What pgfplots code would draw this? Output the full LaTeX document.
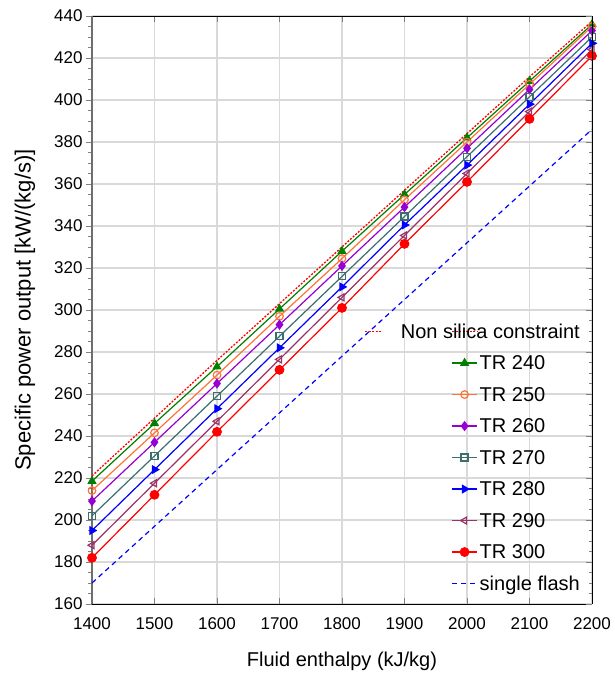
\documentclass[border=0pt]{standalone}
\usepackage{fontspec}
\setmainfont{Liberation Sans}
\usepackage{pgfplots}
\pgfplotsset{compat=1.18}
\usepackage{calc}
\definecolor{cgreen}{RGB}{0,128,0}
\definecolor{corange}{RGB}{255,115,55}
\definecolor{cpurple}{RGB}{150,0,210}
\definecolor{cslate}{RGB}{60,110,110}
\definecolor{cblue}{RGB}{0,0,255}
\definecolor{cplum}{RGB}{153,51,102}
\definecolor{cred}{RGB}{255,0,0}
\definecolor{cgrid}{RGB}{217,217,217}
\definecolor{caxis}{RGB}{110,110,110}
\newcommand{\ls}{\rule[-4pt]{0pt}{19pt}}
\newcommand{\dsh}{\rule[6.5pt]{2pt}{1.3pt}\hspace{1.5pt}}
\begin{document}
\begin{tikzpicture}
\begin{axis}[name=ax, scale only axis, width=500pt, height=588pt,
  xmin=1400, xmax=2200, ymin=160, ymax=440,
  xtick={1400,1500,...,2200}, ytick={160,180,...,440}, minor y tick num=3,
  axis y line*=left,
  y axis line style={-, draw=caxis, line width=1.6pt},
  xtick align=inside, ytick align=outside,
  major tick length=6pt, minor tick length=3.5pt,
  grid=major, major grid style={draw=cgrid, line width=1.2pt},
  /pgf/number format/assume math mode=true,
  /pgf/number format/1000 sep={},
  ticklabel style={font=\fontsize{17}{20}\selectfont},
  xticklabel style={yshift=-10pt},
  xlabel={Fluid enthalpy (kJ/kg)},
  ylabel={Specific power output [kW/(kg/s)]},
  xlabel style={font=\fontsize{20}{24}\selectfont, at={(axis description cs:0.5,-0.097)}, anchor=center},
  ylabel style={font=\fontsize{22}{26}\selectfont, at={(axis description cs:-0.134,0.5)}, anchor=center},
  legend style={draw=none, fill=none, at={(axis description cs:0.986,0.0136)}, anchor=south east,
    font=\fontsize{20}{24}\selectfont, row sep=11pt},
  legend cell align=left,
  legend image code/.code={\draw[mark repeat=2,mark phase=2,#1] plot coordinates {(0pt,0pt) (12.5pt,0pt) (25pt,0pt)};},
  every axis plot/.append style={line width=1.2pt},
]
\addplot[cred, dash pattern=on 2pt off 1.5pt, line width=1.3pt,
  legend image code/.code={\path (0pt,0pt) -- (25pt,0pt);}]
  coordinates {(1400,221) (1500,248.5) (1600,276) (1700,303) (1800,330) (1900,357) (2000,384) (2100,411) (2200,437.5)};
\addlegendentry{\makebox[\widthof{single flash}][r]{\ls\textcolor{cred}{\dsh\dsh\dsh\dsh\dsh}\hspace{18pt}Non silica constraint}}
\addplot[cgreen, mark=triangle*, mark size=4.2pt, mark options={solid}]
  coordinates {(1400,218.5) (1500,246) (1600,273) (1700,300.5) (1800,328) (1900,355) (2000,382) (2100,409) (2200,436)};
\addlegendentry{\ls TR 240}
\addplot[corange, mark=o, mark size=3.8pt, mark options={solid}]
  coordinates {(1400,214) (1500,241.5) (1600,269) (1700,297) (1800,324.5) (1900,352.5) (2000,380) (2100,407.5) (2200,435)};
\addlegendentry{\ls TR 250}
\addplot[cpurple, mark=diamond*, mark size=4.2pt, mark options={solid}]
  coordinates {(1400,209) (1500,237) (1600,265) (1700,293) (1800,321) (1900,349) (2000,377) (2100,405) (2200,433)};
\addlegendentry{\ls TR 260}
\addplot[cslate, mark=square, mark size=3.5pt, mark options={solid}]
  coordinates {(1400,202) (1500,230.5) (1600,259) (1700,287.5) (1800,316) (1900,344.5) (2000,373) (2100,401.5) (2200,430)};
\addlegendentry{\ls TR 270}
\addplot[cblue, mark=triangle*, mark size=4.2pt, mark options={solid, rotate=-90}]
  coordinates {(1400,195) (1500,224) (1600,253) (1700,282) (1800,311) (1900,340.5) (2000,369) (2100,398) (2200,427)};
\addlegendentry{\ls TR 280}
\addplot[cplum, mark=triangle, mark size=4pt, mark options={solid, rotate=90}]
  coordinates {(1400,188) (1500,217.5) (1600,247) (1700,276.5) (1800,306) (1900,335.5) (2000,365) (2100,394.5) (2200,424)};
\addlegendentry{\ls TR 290}
\addplot[cred, mark=*, mark size=4.3pt, mark options={solid}]
  coordinates {(1400,182) (1500,212) (1600,242) (1700,271.5) (1800,301) (1900,331.5) (2000,361) (2100,391) (2200,421)};
\addlegendentry{\ls TR 300}
\addplot[cblue, dash pattern=on 5pt off 4pt, line width=1.2pt]
  coordinates {(1400,170) (1500,197) (1600,224) (1700,251) (1800,278) (1900,305) (2000,332) (2100,359) (2200,386)};
\addlegendentry{\ls single flash}
\end{axis}
\begin{axis}[at={(ax.south west)}, anchor=south west, scale only axis, width=500pt, height=588pt,
  xmin=1400, xmax=2200, ymin=160, ymax=440,
  axis x line=none, axis y line*=right,
  y axis line style={-},
  ytick={160,180,...,440}, minor y tick num=3, yticklabels={},
  ytick align=inside, major tick length=6pt, minor tick length=3.5pt]
\addplot[draw=none] coordinates {(1400,160)};
\end{axis}
\pgfresetboundingbox
\path ([shift={(-92pt,-71pt)}]ax.south west) rectangle ([shift={(23pt,16pt)}]ax.north east);
\end{tikzpicture}
\end{document}
